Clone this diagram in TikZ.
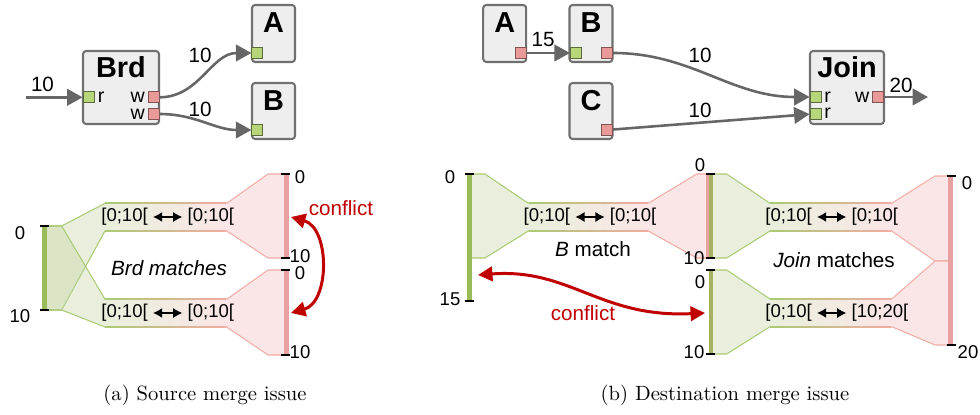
\documentclass[tikz,border=0pt]{standalone}
\usepackage{fontspec}
\newfontfamily\diafont{Liberation Sans}
\usetikzlibrary{arrows.meta,positioning}

% colours
\definecolor{boxfill}{RGB}{238,238,238}
\definecolor{boxline}{RGB}{112,112,112}
\definecolor{flowgray}{RGB}{102,102,102}
\definecolor{portgreen}{RGB}{183,214,122}
\definecolor{portpink}{RGB}{234,153,153}
\definecolor{bargreen}{RGB}{155,187,89}
\definecolor{barolive}{RGB}{166,178,98}
\definecolor{barpink}{RGB}{232,160,160}
\definecolor{bandbase}{RGB}{196,212,162}
\definecolor{bandgreen}{RGB}{233,239,220}
\definecolor{bandpink}{RGB}{250,230,230}
\definecolor{edgegreen}{RGB}{170,202,115}
\definecolor{edgepink}{RGB}{242,172,166}
\definecolor{conflictred}{RGB}{192,0,0}

\def\px{0.485pt}   % one pixel of the figure

\tikzset{
  blockbox/.style={draw=boxline, fill=boxfill, line width=1pt, rounded corners=1.5pt, inner sep=0pt},
  blocktitle/.style={font=\diafont\fontsize{14}{16}\selectfont\bfseries, anchor=base, inner sep=0pt},
  rport/.style={draw=portgreen!50!black, fill=portgreen, line width=.45pt, minimum size=5.3pt, inner sep=0pt},
  wport/.style={rport, draw=portpink!55!black, fill=portpink},
  portlab/.style={font=\diafont\fontsize{9.5}{10}\selectfont, inner sep=0pt},
  flowlab/.style={font=\diafont\fontsize{10}{12}\selectfont, inner sep=0pt},
  flowarrow/.style={draw=flowgray, line width=1.25pt, -{Triangle[length=7.5pt,width=8pt]}},
  bandline/.style={line width=.5pt},
  axlab/.style={font=\diafont\fontsize{9}{11}\selectfont, inner sep=0pt},
  matchlab/.style={font=\diafont\fontsize{9}{11}\selectfont, inner sep=0pt},
  matcharrow/.style={line width=1.2pt, {Latex[length=4.5pt,width=5pt]}-{Latex[length=4.5pt,width=5pt]},
    shorten <=2.3pt, shorten >=2.3pt},
  grouplab/.style={font=\diafont\fontsize{10}{12}\selectfont, inner sep=0pt},
  conflict/.style={draw=conflictred, line width=1.45pt,
    {Triangle[length=7pt,width=7pt]}-{Triangle[length=7pt,width=7pt]}},
  tickmark/.style={line width=1pt},
  subcap/.style={inner sep=0pt}
}

\begin{document}
\begin{tikzpicture}[x=\px, y=-\px]
  \useasboundingbox (0,0) rectangle (980,415);

  % ---------- (a) source merge: blocks ----------
  \node[blockbox, minimum width=76*\px, minimum height=73*\px] (brd) at (121,87.5) {};
  \node[blockbox, minimum width=43*\px, minimum height=57*\px] (a-A) at (273.5,33.5) {};
  \node[blockbox, minimum width=43*\px, minimum height=56*\px] (a-B) at (273.5,111) {};
  \node[blocktitle] (brd-t) at (121,77.5) {Brd};
  \node[blocktitle] (a-A-t) at (273.5,33) {A};
  \node[blocktitle] (a-B-t) at (273.5,110.5) {B};
  % ports
  \node[rport] (brd-r) at (88.5,97.3) {};
  \node[wport] (brd-w1) at (153.5,97.3) {};
  \node[wport] (brd-w2) at (153.5,114) {};
  \node[rport] (a-A-r) at (257.3,53) {};
  \node[rport] (a-B-r) at (257.3,130) {};
  \node[portlab, right=1.5pt of brd-r] (brd-rl) {r};
  \node[portlab, left=1.2pt of brd-w1] (brd-wl1) {w};
  \node[portlab, left=1.2pt of brd-w2] (brd-wl2) {w};
  % flows
  \coordinate (brd-in) at (26,97.3);
  \draw[flowarrow] (brd-in) -- (brd-r);
  \draw[flowarrow] (brd-w1) to[out=0, in=180] (a-A-r);
  \draw[flowarrow] (brd-w2) to[out=0, in=180] (a-B-r);
  \node[flowlab] (f-in) at (42.5,84.5) {10};
  \node[flowlab] (f-aA) at (200,55) {10};
  \node[flowlab] (f-aB) at (200,109) {10};

  % ---------- (b) destination merge: blocks ----------
  \node[blockbox, minimum width=43*\px, minimum height=57*\px] (b-A) at (504.7,33.5) {};
  \node[blockbox, minimum width=43*\px, minimum height=57*\px] (b-B) at (591,33.5) {};
  \node[blockbox, minimum width=43*\px, minimum height=56*\px] (b-C) at (591,111) {};
  \node[blockbox, minimum width=74*\px, minimum height=73*\px] (join) at (847,87.5) {};
  \node[blocktitle] (b-A-t) at (504.7,33) {A};
  \node[blocktitle] (b-B-t) at (591,33) {B};
  \node[blocktitle] (b-C-t) at (591,111) {C};
  \node[blocktitle] (join-t) at (847,78) {Join};
  % ports
  \node[wport] (b-A-w) at (520.5,53) {};
  \node[rport] (b-B-r) at (575.8,53) {};
  \node[wport] (b-B-w) at (607,53) {};
  \node[wport] (b-C-w) at (607,130) {};
  \node[rport] (join-r1) at (815.5,97) {};
  \node[rport] (join-r2) at (815.5,113.7) {};
  \node[wport] (join-w) at (878,97) {};
  \node[portlab, right=1.2pt of join-r1] (join-rl1) {r};
  \node[portlab, right=1.2pt of join-r2] (join-rl2) {r};
  \node[portlab, left=1.2pt of join-w] (join-wl) {w};
  % flows
  \coordinate (join-out) at (928,97);
  \draw[flowarrow] (b-A-w) -- (b-B-r);
  \draw[flowarrow] (b-B-w) to[out=0, in=180] (join-r1);
  \draw[flowarrow] (b-C-w) -- (join-r2);
  \draw[flowarrow] (join-w) -- (join-out);
  \node[flowlab] (f-AB) at (543,40) {15};
  \node[flowlab] (f-BJ) at (700,55) {10};
  \node[flowlab] (f-CJ) at (700,110) {10};
  \node[flowlab] (f-out) at (901,85) {20};

  % ---------- match bands ----------
  \foreach \xa/\xb/\xc/\xd/\xe/\xf/\ya/\yb/\yc/\yd/\ye/\yf in {
      46/61.7/105/226.7/268/284/226/310/203.3/231/174/258,
      46/61.7/105/226.7/268/284/226/310/299.3/327/270/355,
      471/485/528.3/648.3/696.7/707/174/258/203.3/231/174/258,
      712/726.7/770/891.7/935/948/174/258/203.3/231/176/261,
      712/726.7/770/891.7/935/948/270/354/299/326.7/261/345} {
    \fill[bandbase, fill opacity=.375] (\xa,\ya) -- (\xb,\ya) -- (\xc,\yc) -- (\xc,\yd)
      -- (\xb,\yb) -- (\xa,\yb) -- cycle;
    \shade[left color=bandgreen, right color=bandpink] (\xc,\yc) rectangle (\xd,\yd);
    \fill[bandpink] (\xd,\yc) -- (\xe,\ye) -- (\xf,\ye) -- (\xf,\yf) -- (\xe,\yf) -- (\xd,\yd) -- cycle;
    \draw[edgegreen, bandline] (\xa,\ya) -- (\xb,\ya) -- (\xc,\yc) (\xa,\yb) -- (\xb,\yb) -- (\xc,\yd);
    \draw[edgepink, bandline] (\xd,\yc) -- (\xe,\ye) -- (\xf,\ye) (\xd,\yd) -- (\xe,\yf) -- (\xf,\yf);
    \shade[left color=edgegreen, right color=edgepink] (\xc,\yc-.5) rectangle (\xd,\yc+.5);
    \shade[left color=edgegreen, right color=edgepink] (\xc,\yd-.5) rectangle (\xd,\yd+.5);
  }

  % bars
  \foreach \x/\ya/\yb/\w/\col in {44.5/226/310/4.5/bargreen, 286/174/258/5/barpink,
      286/270/355/5/barpink, 469/174/301/5/bargreen, 707.8/174/258/3/barpink,
      711/174/258/4/barolive, 711/270/354/4/barolive, 950.5/176/345/5/barpink}
    \draw[\col, line width=\w*\px] (\x,\ya) -- (\x,\yb);

  % ticks
  \foreach \x/\y in {44/226, 44/310, 285.5/174, 285.5/258, 285.5/270, 285.5/355,
      469/174, 469/301, 710.5/174, 710.5/258, 710.5/270, 710.5/354, 951/176, 951/345}
    \draw[tickmark] (\x-4.5,\y) -- (\x+4.5,\y);

  % tick labels
  \foreach \x/\y/\lab [count=\i] in {20/233/0, 20/316/10, 300/177/0, 300/256.6/10,
      300/273.5/0, 300/352/10, 450/177/0, 450/299/15, 700/165/0, 694/258/10,
      700/282/0, 694/352/10, 967/183/0, 968/352/20}
    \node[axlab] (ax\i) at (\x,\y) {\lab};

  % interval pairs
  \foreach \cx/\cy/\lo/\hi [count=\i] in {167.7/217/[0;10[/[0;10[, 167.7/313/[0;10[/[0;10[,
      590/217/[0;10[/[0;10[, 831.7/217/[0;10[/[0;10[, 831.7/313/[0;10[/[10;20[} {
    \node[matchlab, anchor=east] (ml\i) at (\cx-19.5,\cy) {\lo};
    \node[matchlab, anchor=west] (mr\i) at (\cx+19.5,\cy) {\hi};
    \draw[matcharrow] (ml\i) -- (mr\i);
  }
  \node[grouplab] (g-brd) at (169,268) {\textit{Brd matches}};
  \node[grouplab] (g-b) at (593,249) {\textit{B} match};
  \node[grouplab] (g-join) at (834,260) {\textit{Join} matches};

  % conflicts
  \coordinate (ca1) at (291,217);
  \coordinate (ca2) at (291,313);
  \draw[conflict] (ca1) .. controls (330,228) and (330,302) .. (ca2);
  \node[grouplab, text=conflictred] (ca-lab) at (341,208) {conflict};
  \coordinate (cb1) at (478,275);
  \coordinate (cb2) at (705,313);
  \draw[conflict] (cb1) .. controls (570,268) and (600,318) .. (cb2);
  \node[grouplab, text=conflictred] (cb-lab) at (583,313.5) {conflict};

  % captions
  \node[subcap] (cap-a) at (205,395) {(a) Source merge issue};
  \node[subcap] (cap-b) at (725,395) {(b) Destination merge issue};
\end{tikzpicture}
\end{document}
